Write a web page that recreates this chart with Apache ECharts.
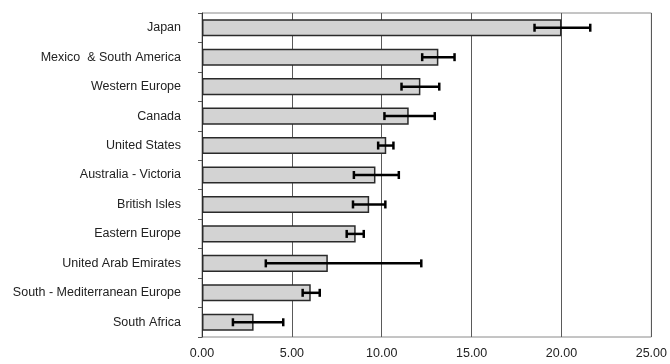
<!DOCTYPE html>
<html>
<head>
<meta charset="utf-8">
<script src="https://cdn.jsdelivr.net/npm/echarts@6/dist/echarts.min.js"></script>
<style>html,body{margin:0;padding:0;background:#fff}#c{width:670px;height:364px}</style>
</head>
<body>
<div id="c"></div>
<script>
const categories = ["Japan", "Mexico  & South America", "Western Europe", "Canada", "United States", "Australia - Victoria", "British Isles", "Eastern Europe", "United Arab Emirates", "South - Mediterranean Europe", "South Africa"];
const values = [20.0, 13.15, 12.15, 11.5, 10.25, 9.65, 9.3, 8.55, 7.0, 6.05, 2.87];
const errLow = [18.5, 12.25, 11.1, 10.15, 9.8, 8.45, 8.4, 8.05, 3.55, 5.6, 1.72];
const errHigh = [21.6, 14.05, 13.2, 12.95, 10.65, 10.95, 10.2, 9.0, 12.2, 6.55, 4.52];
const xTicks = [0, 5, 10, 15, 20, 25];

const chart = echarts.init(document.getElementById('c'));
const errData = categories.map((c, i) => [i, errLow[i], errHigh[i]]);
chart.setOption({
  animation: false,
  grid: {left: 202, right: 13, top: 13, bottom: 27, show: true, borderColor: '#8a8a8a', borderWidth: 1},
  xAxis: {
    type: 'value', min: xTicks[0], max: xTicks[xTicks.length - 1], interval: 5,
    axisLine: {show: false},
    axisTick: {show: false},
    splitLine: {show: true, lineStyle: {color: '#5a5a5a', width: 1}},
    axisLabel: {formatter: v => v.toFixed(2), color: '#222', fontSize: 12.5, fontFamily: 'Liberation Sans, Arial', margin: 10}
  },
  yAxis: {
    type: 'category', inverse: true, data: categories,
    axisLine: {show: true, lineStyle: {color: '#333', width: 1}},
    axisTick: {show: true, length: 4, lineStyle: {color: '#555'}},
    axisLabel: {color: '#222', fontSize: 12.5, fontFamily: 'Liberation Sans, Arial', margin: 21}
  },
  series: [
    {
      type: 'bar', data: values, barWidth: '58%',
      itemStyle: {color: '#d3d3d3', borderColor: '#2a2a2a', borderWidth: 1.5}
    },
    {
      type: 'custom', data: errData, z: 10,
      renderItem: function (params, api) {
        const i = api.value(0);
        const lo = api.coord([api.value(1), i]);
        const hi = api.coord([api.value(2), i]);
        const h = 4;
        const style = {stroke: '#000', lineWidth: 2.5};
        return {type: 'group', children: [
          {type: 'line', shape: {x1: lo[0], y1: lo[1], x2: hi[0], y2: hi[1]}, style},
          {type: 'line', shape: {x1: lo[0], y1: lo[1] - h, x2: lo[0], y2: lo[1] + h}, style},
          {type: 'line', shape: {x1: hi[0], y1: hi[1] - h, x2: hi[0], y2: hi[1] + h}, style}
        ]};
      }
    }
  ]
});
</script>
</body>
</html>
